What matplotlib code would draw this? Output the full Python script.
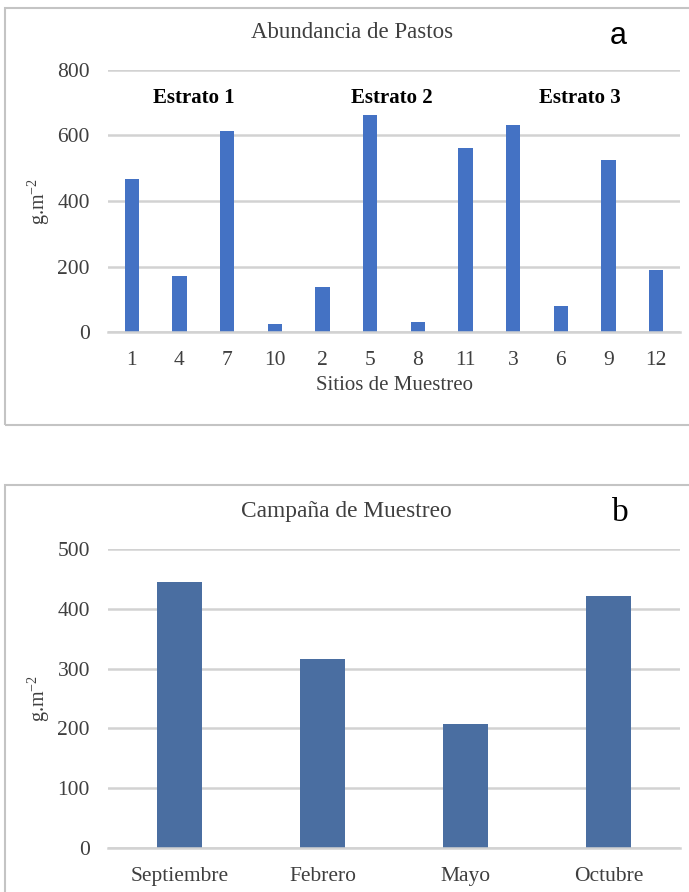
import matplotlib.pyplot as plt
from matplotlib.patches import Rectangle

# Panel a: grass abundance per sampling site
sitios = ['1', '4', '7', '10', '2', '5', '8', '11', '3', '6', '9', '12']
abundancia = [467, 172, 614, 24, 137, 662, 31, 562, 632, 78, 525, 190]
estratos = ['Estrato 1', 'Estrato 2', 'Estrato 3']
estrato_pos = [1.3, 5.45, 9.4]

# Panel b: per sampling campaign
campanas = ['Septiembre', 'Febrero', 'Mayo', 'Octubre']
valores_campana = [445, 316, 208, 422]

plt.rcParams['font.family'] = ['Liberation Serif', 'DejaVu Serif']

W, H = 689, 892
fig = plt.figure(figsize=(W / 100, H / 100), dpi=100)

# panel borders
for (y0, y1) in [(8, 425), (485, 895)]:
    fig.patches.append(Rectangle((5 / W, 1 - y1 / H), (W + 5) / W, (y1 - y0) / H,
                                 transform=fig.transFigure, fill=False,
                                 edgecolor='#c4c4c4', linewidth=1.5))

grid_c = '#d2d2d2'
text_c = '#3f3f3f'
ylab = 'g.m$^{\\mathregular{-2}}$'


def style(ax, ymax, step):
    ax.set_ylim(0, ymax)
    ax.set_yticks(range(0, ymax + 1, step))
    ax.yaxis.grid(True, color=grid_c, linewidth=1.8)
    ax.set_axisbelow(True)
    for s in ['top', 'right', 'left']:
        ax.spines[s].set_visible(False)
    ax.spines['bottom'].set_color(grid_c)
    ax.spines['bottom'].set_linewidth(1.8)
    ax.tick_params(axis='y', length=0, labelsize=15.5, labelcolor=text_c, pad=13)
    ax.tick_params(axis='x', length=0, labelsize=15.5, labelcolor=text_c, pad=14)


# --- panel a
ax1 = fig.add_axes([108 / W, 1 - 332 / H, 572 / W, 262 / H])
x1 = range(len(sitios))
ax1.bar(x1, abundancia, width=0.3, color='#4472c4')
ax1.set_xticks(list(x1))
ax1.set_xticklabels(sitios)
ax1.set_xlim(-0.5, len(sitios) - 0.5)
style(ax1, 800, 200)
ax1.set_xlabel('Sitios de Muestreo', fontsize=15, color=text_c, labelpad=4)
ax1.set_ylabel(ylab, fontsize=14.5, color=text_c, labelpad=4)
for p, e in zip(estrato_pos, estratos):
    ax1.text(p, 715, e, ha='center', va='center',
             fontsize=15, fontweight='bold', color='black')
fig.text(352 / W, 1 - 33 / H, 'Abundancia de Pastos', ha='center', va='center',
         fontsize=16.5, color=text_c)
fig.text(618 / W, 1 - 36 / H, 'a', ha='center', va='center', fontsize=22,
         color='black', family='Liberation Sans')

# --- panel b
ax2 = fig.add_axes([108 / W, 1 - 848 / H, 572 / W, 299 / H])
x2 = range(len(campanas))
ax2.bar(x2, valores_campana, width=0.32, color='#4a6ea1')
ax2.set_xticks(list(x2))
ax2.set_xticklabels(campanas)
ax2.set_xlim(-0.5, len(campanas) - 0.5)
style(ax2, 500, 100)
ax2.set_ylabel(ylab, fontsize=14.5, color=text_c, labelpad=4)
fig.text(346 / W, 1 - 512 / H, 'Campaña de Muestreo', ha='center', va='center',
         fontsize=16.8, color=text_c)
fig.text(620 / W, 1 - 513 / H, 'b', ha='center', va='center', fontsize=24, color='black')

fig.savefig('out.png', dpi=100, facecolor='white')
plt.close(fig)
